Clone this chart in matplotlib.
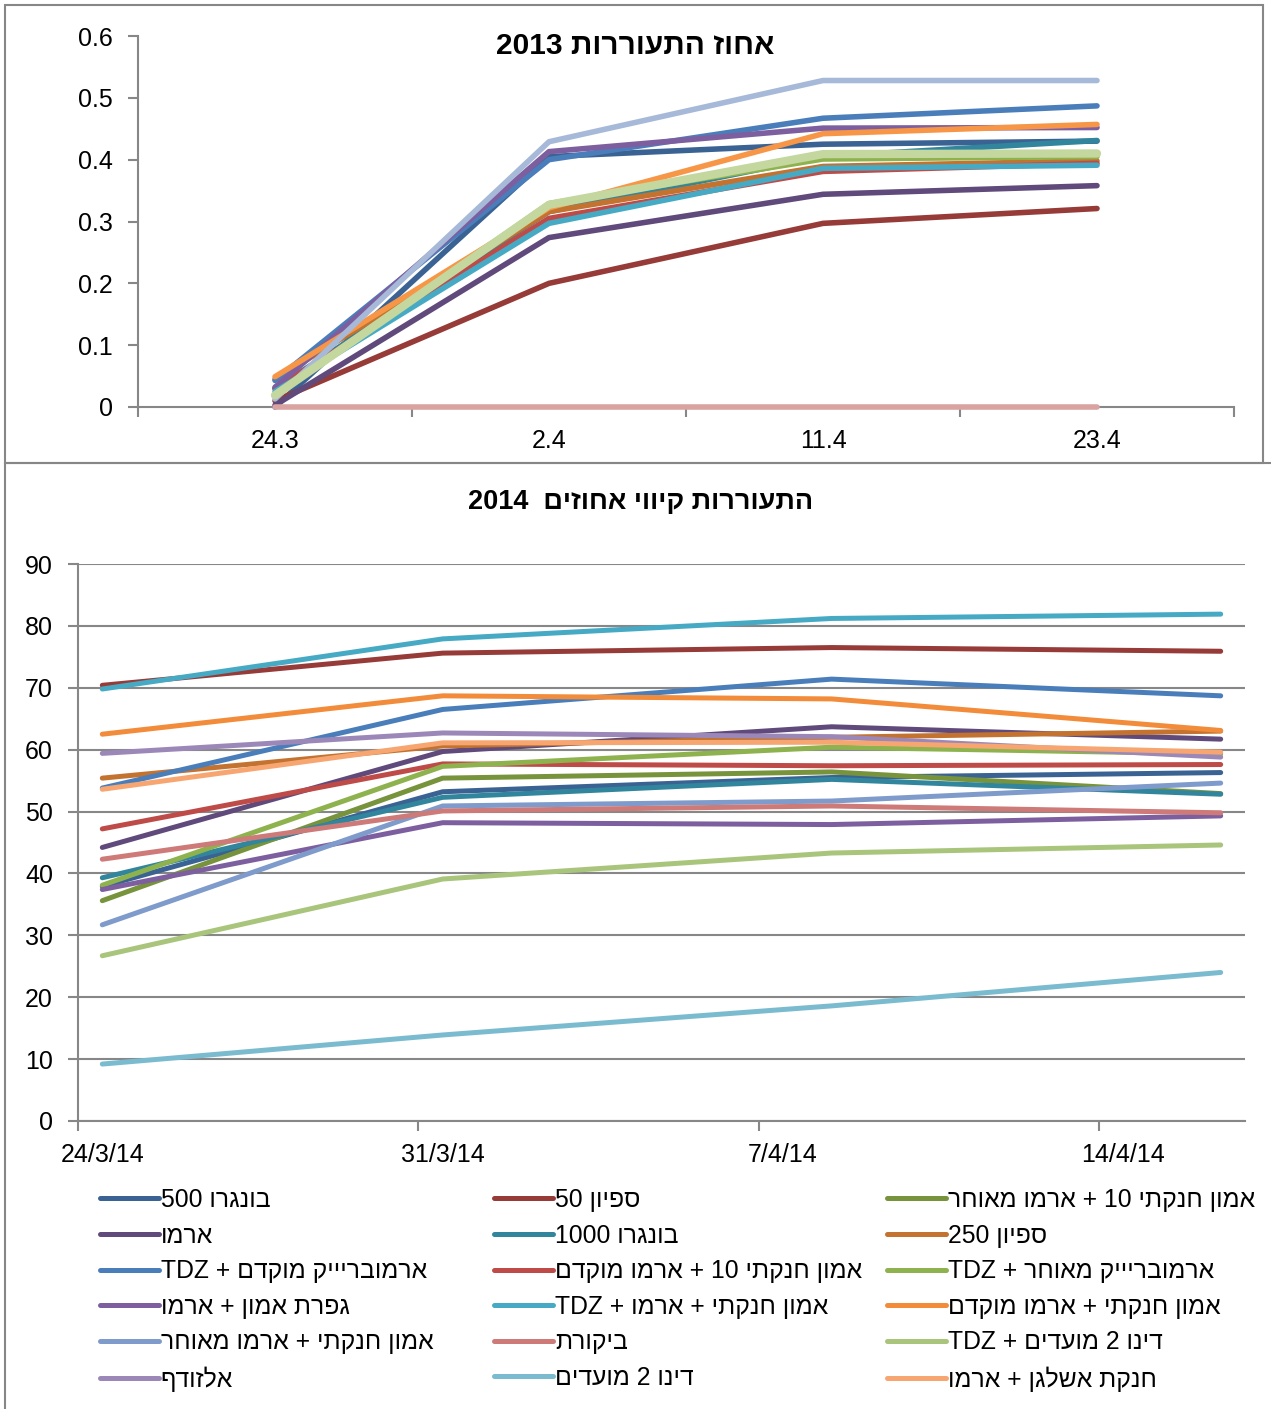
import matplotlib
matplotlib.use("Agg")

import matplotlib.pyplot as plt
import numpy as np
import pandas as pd
from matplotlib.patches import Rectangle


W, H = 1271, 1409
plt.rcParams["font.family"] = ["Liberation Sans", "DejaVu Sans"]

GRAY = "#878787"


def vis(s):
    """Hebrew text in display order (matplotlib lays glyphs left to right)."""
    out = []
    for tok in reversed(s.split(" ")):
        if any("\u0590" <= c <= "\u05ff" for c in tok):
            tok = tok[::-1]
        out.append(tok)
    return " ".join(out)


# -- 2013 --
title_2013 = "אחוז התעוררות 2013"
cats_2013 = ["24.3", "2.4", "11.4", "23.4"]

s13_dark_blue = [0.000, 0.405, 0.425, 0.430]
s13_dark_red = [0.010, 0.200, 0.297, 0.321]
s13_dark_purple = [0.003, 0.274, 0.344, 0.358]
s13_teal = [0.030, 0.316, 0.405, 0.431]
s13_dark_orange = [0.045, 0.316, 0.389, 0.398]
s13_blue = [0.043, 0.400, 0.467, 0.487]
s13_red = [0.030, 0.305, 0.381, 0.394]
s13_green = [0.020, 0.329, 0.401, 0.405]
s13_purple = [0.032, 0.413, 0.451, 0.452]
s13_cyan = [0.025, 0.297, 0.386, 0.391]
s13_orange = [0.049, 0.322, 0.442, 0.457]
s13_light_blue = [0.013, 0.429, 0.528, 0.528]
s13_light_red = [0.000, 0.000, 0.000, 0.000]
s13_light_green = [0.019, 0.327, 0.409, 0.410]

# -- 2014 --
title_2014 = "התעוררות קיווי אחוזים  2014"
dates_2014 = ["2014-03-24", "2014-03-31", "2014-04-08", "2014-04-16"]
tick_dates_2014 = ["2014-03-24", "2014-03-31", "2014-04-07", "2014-04-14"]

names_2014 = [
    "בונגרו 500",
    "ספיון 50",
    "אמון חנקתי 10 + ארמו מאוחר",
    "ארמו",
    "בונגרו 1000",
    "ספיון 250",
    "ארמובריייק מוקדם + TDZ",
    "אמון חנקתי 10 + ארמו מוקדם",
    "ארמובריייק מאוחר + TDZ",
    "גפרת אמון + ארמו",
    "אמון חנקתי + ארמו + TDZ",
    "אמון חנקתי + ארמו מוקדם",
    "אמון חנקתי + ארמו מאוחר",
    "ביקורת",
    "דינו 2 מועדים + TDZ",
    "אלזודף",
    "דינו 2 מועדים",
    "חנקת אשלגן + ארמו",
]
values_2014 = [
    [37.9, 53.2, 55.5, 56.3],
    [70.4, 75.6, 76.5, 75.9],
    [35.6, 55.4, 56.4, 52.9],
    [44.2, 59.7, 63.7, 61.7],
    [39.3, 52.3, 55.2, 52.8],
    [55.4, 60.6, 62.0, 63.0],
    [53.8, 66.5, 71.4, 68.7],
    [47.2, 57.7, 57.4, 57.6],
    [38.1, 57.3, 60.4, 59.3],
    [37.4, 48.2, 47.9, 49.3],
    [69.8, 77.9, 81.2, 81.9],
    [62.5, 68.7, 68.2, 63.1],
    [31.7, 50.9, 51.7, 54.6],
    [42.3, 50.1, 50.9, 49.8],
    [26.7, 39.1, 43.3, 44.6],
    [59.4, 62.7, 62.1, 58.8],
    [9.2, 13.9, 18.6, 24.0],
    [53.6, 61.1, 61.2, 59.6],
]

PAL = {
    "dark_blue": "#3A6394", "dark_red": "#963B38", "olive": "#77933C",
    "dark_purple": "#604A7B", "teal": "#31859C", "dark_orange": "#C3732F",
    "blue": "#4A7EBB", "red": "#BE4B48", "green": "#8EB24E",
    "purple": "#7D5FA0", "cyan": "#46AAC5", "orange": "#F28C3A",
    "light_blue": "#7E9BCB", "light_red": "#CD7A78", "light_green": "#A9C57C",
    "light_purple": "#9C88B8", "light_cyan": "#7BBBD0", "light_orange": "#F7A672",
}
colors_2014 = [
    PAL["dark_blue"], PAL["dark_red"], PAL["olive"], PAL["dark_purple"],
    PAL["teal"], PAL["dark_orange"], PAL["blue"], PAL["red"], PAL["green"],
    PAL["purple"], PAL["cyan"], PAL["orange"], PAL["light_blue"],
    PAL["light_red"], PAL["light_green"], PAL["light_purple"],
    PAL["light_cyan"], PAL["light_orange"],
]

series_2013 = [
    (s13_dark_blue, PAL["dark_blue"], 4.0),
    (s13_dark_red, PAL["dark_red"], 4.0),
    (s13_dark_purple, PAL["dark_purple"], 4.0),
    (s13_teal, PAL["teal"], 4.0),
    (s13_dark_orange, PAL["dark_orange"], 4.0),
    (s13_blue, PAL["blue"], 4.0),
    (s13_red, PAL["red"], 4.0),
    (s13_green, PAL["green"], 4.0),
    (s13_purple, PAL["purple"], 4.0),
    (s13_cyan, PAL["cyan"], 4.0),
    (s13_orange, "#F79646", 4.0),
    (s13_light_blue, "#A7B9D8", 4.0),
    (s13_light_red, "#D9A3A2", 4.0),
    (s13_light_green, "#C4D79E", 6.0),
]


def fx(px):
    return px / W


def fy(py):
    return 1 - py / H


fig = plt.figure(figsize=(W / 100, H / 100), dpi=100)

# panel frames
fig.add_artist(Rectangle((fx(5), fy(463)), fx(1263) - fx(5), fy(5) - fy(463),
                         transform=fig.transFigure, fill=False, ec=GRAY, lw=1.5))
fig.add_artist(Rectangle((fx(5), fy(1420)), fx(1290) - fx(5), fy(463) - fy(1420),
                         transform=fig.transFigure, fill=False, ec=GRAY, lw=1.5,
                         clip_on=False))

# -- top chart --
ax1 = fig.add_axes([fx(138), fy(407), fx(1234) - fx(138), fy(36) - fy(407)])
x13 = np.arange(len(cats_2013))
for vals, c, lw in series_2013:
    ax1.plot(x13, vals, color=c, lw=lw, solid_capstyle="round",
             solid_joinstyle="round", clip_on=False, zorder=3)
ax1.set_xlim(-0.5, len(cats_2013) - 0.5)
ax1.set_ylim(0, 0.6)
ax1.set_yticks(np.arange(0, 0.61, 0.1))
ax1.set_yticklabels(["0", "0.1", "0.2", "0.3", "0.4", "0.5", "0.6"])
ax1.set_xticks(np.arange(-0.5, len(cats_2013), 1.0))
ax1.set_xticklabels([])
ax1.set_xticks(x13, minor=True)
ax1.set_xticklabels(cats_2013, minor=True)
ax1.tick_params(axis="x", which="major", length=7, width=1.5, color=GRAY, direction="out")
ax1.tick_params(axis="x", which="minor", length=0, pad=16, labelsize=18)
ax1.tick_params(axis="y", length=7, width=1.5, color=GRAY, pad=11, labelsize=18)
for side in ("top", "right"):
    ax1.spines[side].set_visible(False)
for side in ("left", "bottom"):
    ax1.spines[side].set_color(GRAY)
    ax1.spines[side].set_linewidth(1.5)
fig.text(fx(635), fy(46), vis(title_2013), ha="center", va="center",
         fontsize=21.5, fontweight="bold")

# -- bottom chart --
ax2 = fig.add_axes([fx(78), fy(1121), fx(1245) - fx(78), fy(564) - fy(1121)])
d = pd.to_datetime(dates_2014)
x14 = (d - d[0]).days.to_numpy()
lines = []
for vals, c in zip(values_2014, colors_2014):
    (ln,) = ax2.plot(x14, vals, color=c, lw=3.6, solid_capstyle="round",
                     solid_joinstyle="round")
    lines.append(ln)
td = pd.to_datetime(tick_dates_2014)
tx = (td - d[0]).days.to_numpy()
ax2.set_xlim(-0.5, 23.5)
ax2.set_ylim(0, 90)
ax2.set_yticks(np.arange(0, 91, 10))
ax2.yaxis.grid(True, color=GRAY, lw=1.5)
ax2.set_axisbelow(True)
ax2.set_xticks(tx - 0.5)
ax2.set_xticklabels([])
ax2.set_xticks(tx, minor=True)
ax2.set_xticklabels([f"{t.day}/{t.month}/{t.year % 100}" for t in td], minor=True)
ax2.tick_params(axis="x", which="major", length=7, width=1.5, color=GRAY, direction="out")
ax2.tick_params(axis="x", which="minor", length=0, pad=16, labelsize=18)
ax2.tick_params(axis="y", length=7, width=1.5, color=GRAY, pad=11, labelsize=18)
for side in ("top", "right"):
    ax2.spines[side].set_visible(False)
for side in ("left", "bottom"):
    ax2.spines[side].set_color(GRAY)
    ax2.spines[side].set_linewidth(1.5)
fig.text(fx(641), fy(502), vis(title_2014), ha="center", va="center",
         fontsize=19.5, fontweight="bold")

# legend: three columns, filled row by row
col_x = [100, 494, 887]
for j, x0 in enumerate(col_x):
    idx = list(range(j, len(names_2014), 3))
    fig.legend([lines[i] for i in idx], [vis(names_2014[i]) for i in idx],
               loc="upper left", bbox_to_anchor=(fx(x0), fy(1188)),
               frameon=False, fontsize=17.8, borderpad=0, borderaxespad=0,
               handlelength=2.38, handletextpad=0.08, labelspacing=0.47)

fig.savefig("out.png", dpi=100)
